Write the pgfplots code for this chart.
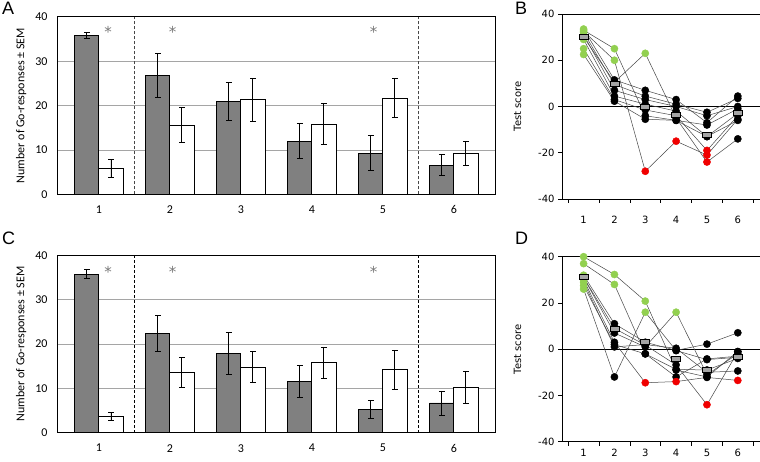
\documentclass[border=0pt]{standalone}
\usepackage{pgfplots}
\usepackage{pgfplotstable}
\pgfplotsset{compat=1.18}
\usepackage{fontspec}
\setmainfont{Carlito}
\newfontfamily\dejavu{DejaVu Sans}
\newfontfamily\arialf{Liberation Sans}
\definecolor{barg}{RGB}{128,128,128}
\definecolor{gridg}{RGB}{165,165,165}
\definecolor{dashg}{RGB}{70,70,70}
\definecolor{ptgreen}{RGB}{146,208,80}
\definecolor{ptred}{RGB}{240,0,0}
\definecolor{sqg}{RGB}{165,165,165}
\definecolor{linec}{RGB}{70,70,70}
\definecolor{starg}{RGB}{120,120,120}

\pgfplotstableread{
x g ge w we
1 35.8 0.6 5.9 2.0
2 26.75 5.0 15.6 3.9
3 20.9 4.2 21.3 4.9
4 12.0 4.0 15.8 4.6
5 9.3 4.0 21.7 4.3
6 6.6 2.35 9.2 2.6
}\dataA
\pgfplotstableread{
x g ge w we
1 35.7 1.0 3.7 0.9
2 22.4 4.0 13.6 3.45
3 17.8 4.7 14.8 3.45
4 11.6 3.65 15.8 3.5
5 5.2 2.1 14.2 4.4
6 6.7 2.7 10.2 3.5
}\dataC

\tikzset{starnode/.style={starg, anchor=base, inner sep=0pt, font=\dejavu\fontsize{15}{16}\selectfont}}

\pgfplotsset{
  barpanel/.style={
    scale only axis, width=438pt, height=177.5pt,
    xmin=0.41, xmax=6.58, ymin=0, ymax=40,
    xtick={1,2,3,4,5,6}, xticklabels={1,2,3,4,5,6},
    ytick={0,10,20,30,40}, yticklabels={0,10,20,30,40},
    major tick length=0pt,
    ymajorgrids, grid style={gridg, line width=0.8pt},
    axis line style={black, line width=0.8pt},
    tick label style={font=\fontsize{12}{14}\selectfont},
    yticklabel style={xshift=-6pt},
    xticklabel style={yshift=-8pt},
    ylabel={Number of Go-responses ± SEM},
    ylabel style={font=\fontsize{12}{14}\selectfont, at={(axis description cs:-0.082,0.5)}, anchor=center},
    clip=false,
  },
  gbar/.style={ybar, bar width=0.34, bar shift=0, fill=barg, draw=black, line width=0.8pt,
    error bars/.cd, y dir=both, y explicit, error bar style={line width=0.9pt, black, solid},
    error mark options={rotate=90, mark size=2.8pt, line width=0.9pt, black, solid}},
  wbar/.style={ybar, bar width=0.34, bar shift=0, fill=white, draw=black, line width=0.8pt,
    error bars/.cd, y dir=both, y explicit, error bar style={line width=0.9pt, black, solid},
    error mark options={rotate=90, mark size=2.8pt, line width=0.9pt, black, solid}},
  linepanel/.style={
    scale only axis, width=198pt, height=185pt,
    xmin=0.3, xmax=6.72, ymin=-40, ymax=40,
    axis x line*=bottom, axis y line*=left,
    axis line style={black, line width=0.7pt, -},
    xtick={1,2,3,4,5,6}, xticklabels={1,2,3,4,5,6},
    minor xtick={0.5,1.5,2.5,3.5,4.5,5.5,6.5},
    ytick={-40,-20,0,20,40}, yticklabels={-40,-20,0,20,40},
    major x tick style={draw=none},
    minor tick length=4pt, major tick length=4pt,
    tick align=outside,
    tick style={black, line width=0.7pt},
    tick label style={font=\dejavu\fontsize{10}{12}\selectfont},
    ylabel={\dejavu\fontsize{10}{12}\selectfont Test score},
    ylabel style={at={(axis description cs:-0.225,0.5)}, anchor=center},
    clip=false,
  },
  dots/.style={only marks, scatter, scatter src=explicit symbolic, mark size=3.6pt,
    scatter/classes={g={mark=*, draw=ptgreen, fill=ptgreen}, k={mark=*, draw=black, fill=black}, r={mark=*, draw=ptred, fill=ptred}}},
  subj/.style={linec, line width=0.5pt, mark=none},
  means/.style={only marks, mark=square*, mark size=2.5pt, mark options={xscale=1.8, fill=sqg, draw=black, line width=0.7pt}},
}

\begin{document}
\begin{tikzpicture}[x=1pt,y=1pt]
\useasboundingbox (0,0) rectangle (760,461);

% Panel A
\begin{axis}[barpanel, at={(57pt,266.7pt)}, anchor=south west]
\addplot[gbar] table[x expr=\thisrow{x}-0.17, y=g, y error=ge] {\dataA};
\addplot[wbar] table[x expr=\thisrow{x}+0.17, y=w, y error=we] {\dataA};
\addplot[dashg, line width=0.8pt, dash pattern=on 3pt off 2pt] coordinates {(1.5,0) (1.5,40)};
\addplot[dashg, line width=0.8pt, dash pattern=on 3pt off 2pt] coordinates {(5.5,0) (5.5,40)};
\node[starnode] at (axis cs:1.13,35.36) {*};
\node[starnode] at (axis cs:2.04,35.36) {*};
\node[starnode] at (axis cs:4.87,35.36) {*};
\end{axis}

% Panel C
\begin{axis}[barpanel, at={(57pt,28.3pt)}, anchor=south west]
\addplot[gbar] table[x expr=\thisrow{x}-0.17, y=g, y error=ge] {\dataC};
\addplot[wbar] table[x expr=\thisrow{x}+0.17, y=w, y error=we] {\dataC};
\addplot[black, line width=0.8pt, dash pattern=on 3pt off 2pt] coordinates {(1.5,0) (1.5,40)};
\addplot[black, line width=0.8pt, dash pattern=on 3pt off 2pt] coordinates {(5.5,0) (5.5,40)};
\node[starnode] at (axis cs:1.13,35.08) {*};
\node[starnode] at (axis cs:2.04,35.08) {*};
\node[starnode] at (axis cs:4.87,35.08) {*};
\end{axis}

% Panel B
\begin{axis}[linepanel, at={(562pt,262pt)}, anchor=south west, xticklabel style={yshift=-10pt}]
\addplot[black, line width=0.7pt] coordinates {(0.3,40) (6.72,40)};
\addplot[black, line width=0.7pt] coordinates {(0.3,0) (6.72,0)};
\addplot[subj] coordinates {(1,33) (2,25) (3,-4) (4,-6) (5,-8) (6,-1)};
\addplot[subj] coordinates {(1,32.5) (2,20) (3,-28) (4,-15) (5,-21) (6,-5.5)};
\addplot[subj] coordinates {(1,30) (2,10.5) (3,23) (4,-5) (5,-24) (6,-14)};
\addplot[subj] coordinates {(1,33.5) (2,11.5) (3,7) (4,3) (5,-7) (6,4.5)};
\addplot[subj] coordinates {(1,32) (2,9.5) (3,4.5) (4,1) (5,-2.5) (6,3.5)};
\addplot[subj] coordinates {(1,31) (2,7) (3,3) (4,0) (5,-4) (6,0)};
\addplot[subj] coordinates {(1,29) (2,4.5) (3,1) (4,-2) (5,-13) (6,-3)};
\addplot[subj] coordinates {(1,25) (2,3) (3,-1.5) (4,-4) (5,-19) (6,-4)};
\addplot[subj] coordinates {(1,22.5) (2,2.3) (3,-5.5) (4,-6) (5,-13) (6,-6)};
\addplot[dots] coordinates {
(1,33)[g] (1,32.5)[g] (1,30)[g] (1,33.5)[g] (1,32)[g] (1,31)[g] (1,29)[g] (1,25)[g] (1,22.5)[g]
(2,25)[g] (2,20)[g] (2,10.5)[k] (2,11.5)[k] (2,9.5)[k] (2,7)[k] (2,4.5)[k] (2,3)[k] (2,2.3)[k]
(3,-4)[k] (3,-28)[r] (3,23)[g] (3,7)[k] (3,4.5)[k] (3,3)[k] (3,1)[k] (3,-1.5)[k] (3,-5.5)[k]
(4,-6)[k] (4,-15)[r] (4,-5)[k] (4,3)[k] (4,1)[k] (4,0)[k] (4,-2)[k] (4,-4)[k] (4,-6)[k]
(5,-8)[k] (5,-21)[r] (5,-24)[r] (5,-7)[k] (5,-2.5)[k] (5,-4)[k] (5,-13)[k] (5,-19)[r] (5,-13)[k]
(6,-1)[k] (6,-5.5)[k] (6,-14)[k] (6,4.5)[k] (6,3.5)[k] (6,0)[k] (6,-3)[k] (6,-4)[k] (6,-6)[k]
};
\addplot[means] coordinates {(1,30.2) (2,10) (3,-0.1) (4,-3.8) (5,-12.3) (6,-2.7)};
\end{axis}

% Panel D
\begin{axis}[linepanel, at={(562pt,19.3pt)}, anchor=south west, xticklabel style={yshift=0pt}]
\addplot[black, line width=0.7pt] coordinates {(0.3,40) (6.72,40)};
\addplot[black, line width=0.7pt] coordinates {(0.3,0) (6.72,0)};
\addplot[subj] coordinates {(1,40) (2,32.3) (3,20.8) (4,-9) (5,-12) (6,-1)};
\addplot[subj] coordinates {(1,37) (2,28) (3,-2) (4,-12) (5,-4.2) (6,-3)};
\addplot[subj] coordinates {(1,32) (2,11) (3,3) (4,-0.5) (5,2.2) (6,7.1)};
\addplot[subj] coordinates {(1,31) (2,9) (3,1.8) (4,-6.8) (5,-24) (6,-1.1)};
\addplot[subj] coordinates {(1,31) (2,7) (3,1) (4,16) (5,-11) (6,-2)};
\addplot[subj] coordinates {(1,30) (2,3) (3,-14.5) (4,-14) (5,-12.2) (6,-13.5)};
\addplot[subj] coordinates {(1,29) (2,1) (3,2) (4,0.4) (5,-10) (6,-9.4)};
\addplot[subj] coordinates {(1,27.5) (2,2) (3,-2) (4,-8.7) (5,-9) (6,-4)};
\addplot[subj] coordinates {(1,26) (2,-12) (3,16) (4,-0.6) (5,-4.5) (6,-3.5)};
\addplot[dots] coordinates {
(1,40)[g] (1,37)[g] (1,32)[g] (1,31)[g] (1,31)[g] (1,30)[g] (1,29)[g] (1,27.5)[g] (1,26)[g]
(2,32.3)[g] (2,28)[g] (2,11)[k] (2,9)[k] (2,7)[k] (2,3)[k] (2,1)[k] (2,2)[k] (2,-12)[k]
(3,20.8)[g] (3,-2)[k] (3,3)[k] (3,1.8)[k] (3,1)[k] (3,-14.5)[r] (3,2)[k] (3,-2)[k] (3,16)[g]
(4,-9)[k] (4,-12)[k] (4,-0.5)[k] (4,-6.8)[k] (4,16)[g] (4,-14)[r] (4,0.4)[k] (4,-8.7)[k] (4,-0.6)[k]
(5,-12)[k] (5,-4.2)[k] (5,2.2)[k] (5,-24)[r] (5,-11)[k] (5,-12.2)[k] (5,-10)[k] (5,-9)[k] (5,-4.5)[k]
(6,-1)[k] (6,-3)[k] (6,7.1)[k] (6,-1.1)[k] (6,-2)[k] (6,-13.5)[r] (6,-9.4)[k] (6,-4)[k] (6,-3.5)[k]
};
\addplot[means] coordinates {(1,31.5) (2,9) (3,3.2) (4,-4) (5,-9) (6,-3.3)};
\end{axis}

\node[anchor=base west, inner sep=0, font=\arialf\fontsize{18}{20}\selectfont] at (2,446) {A};
\node[anchor=base west, inner sep=0, font=\arialf\fontsize{18}{20}\selectfont] at (515,446) {B};
\node[anchor=base west, inner sep=0, font=\arialf\fontsize{18}{20}\selectfont] at (2,216) {C};
\node[anchor=base west, inner sep=0, font=\arialf\fontsize{18}{20}\selectfont] at (515,216) {D};
\end{tikzpicture}
\end{document}
